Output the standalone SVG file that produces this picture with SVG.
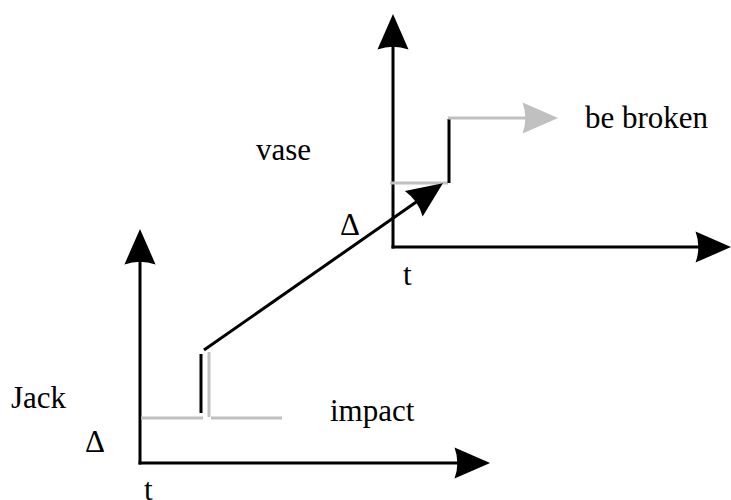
<svg xmlns="http://www.w3.org/2000/svg" width="731" height="500" viewBox="0 0 731 500">
<style>
.ax{stroke:#000;stroke-width:3;fill:none}
.bk{stroke:#000;stroke-width:3;fill:none}
.gr{stroke:#c0c0c0;stroke-width:3;fill:none}
text{font-family:"Liberation Serif","Times New Roman",serif;font-size:31px;fill:#000}
</style>
<defs>
<marker id="ab" markerUnits="userSpaceOnUse" markerWidth="40" markerHeight="40" viewBox="-2 -16 36 32" refX="22" refY="0" orient="auto">
<path d="M0,-14 L32,0 L0,14 Q5,0 0,-14Z" fill="#000"/>
</marker>
<marker id="ag" markerUnits="userSpaceOnUse" markerWidth="40" markerHeight="40" viewBox="-2 -16 36 32" refX="22" refY="0" orient="auto">
<path d="M0,-14 L32,0 L0,14 Q5,0 0,-14Z" fill="#c0c0c0"/>
</marker>
</defs>
<rect width="731" height="500" fill="#fff"/>
<g id="jack-axes">
<line class="ax" x1="140" y1="464.5" x2="140" y2="240" marker-end="url(#ab)"/>
<line class="ax" x1="138.5" y1="463" x2="479" y2="463" marker-end="url(#ab)"/>
</g>
<g id="vase-axes">
<line class="ax" x1="393" y1="248.5" x2="393" y2="25" marker-end="url(#ab)"/>
<line class="ax" x1="391.5" y1="247" x2="720" y2="247" marker-end="url(#ab)"/>
</g>
<g id="jack-impact">
<line class="gr" x1="141" y1="418" x2="203" y2="418"/>
<line class="gr" x1="211" y1="418" x2="282" y2="418"/>
<line class="bk" x1="201" y1="354" x2="201" y2="413"/>
<line class="gr" x1="209" y1="352" x2="209" y2="417"/>
</g>
<g id="vase-broken">
<line class="gr" x1="390" y1="183" x2="448" y2="183"/>
<line class="bk" x1="449" y1="119" x2="449" y2="183"/>
<line class="gr" x1="448" y1="118" x2="547" y2="118" marker-end="url(#ag)"/>
</g>
<g id="connectors">
<line class="bk" x1="204" y1="350" x2="433.8" y2="189.7" marker-end="url(#ab)"/>
</g>
<g id="labels">
<text x="256" y="160">vase</text>
<text x="585" y="128">be broken</text>
<text x="340" y="235">Δ</text>
<text x="403" y="285">t</text>
<text x="11" y="408">Jack</text>
<text x="85" y="452">Δ</text>
<text x="330" y="421">impact</text>
<text x="144" y="500">t</text>
</g>
</svg>
